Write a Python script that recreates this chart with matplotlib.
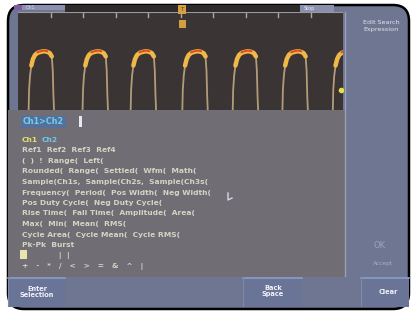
import matplotlib
matplotlib.use('Agg')
import matplotlib.pyplot as plt
from matplotlib.patches import FancyBboxPatch, Rectangle

# pulse start times (divisions)
pulse_starts = [0.32, 1.98, 3.46, 5.05, 6.60, 8.13, 9.68]
# one pulse: time offset (div) / level (div)
pulse_dt = [0.00, 0.02, 0.05, 0.09, 0.14, 0.20, 0.28, 0.38, 0.48, 0.58, 0.66, 0.72, 0.75, 0.77, 0.80]
pulse_v = [-0.3, 0.60, 1.05, 1.36, 1.56, 1.68, 1.75, 1.78, 1.80, 1.78, 1.74, 1.64, 1.20, 0.45, -0.3]

tick_divs = [1, 2, 3, 4, 5, 6, 7, 8, 9]

expr_lines = [
    'Ch1  Ch2',
    'Ref1  Ref2  Ref3  Ref4',
    '(  )  !  Range(  Left(',
    'Rounded(  Range(  Settled(  Wfm(  Math(',
    'Sample(Ch1s,  Sample(Ch2s,  Sample(Ch3s(',
    'Frequency(  Period(  Pos Width(  Neg Width(',
    'Pos Duty Cycle(  Neg Duty Cycle(',
    'Rise Time(  Fall Time(  Amplitude(  Area(',
    'Max(  Min(  Mean(  RMS(',
    'Cycle Area(  Cycle Mean(  Cycle RMS(',
    'Pk-Pk  Burst',
    '              |  |',
    '+   -   *   /   <   >   =   &   ^   |',
]

W, H = 413, 314
fig = plt.figure(figsize=(W / 100, H / 100), dpi=100)
fig.patch.set_facecolor('white')

ax = fig.add_axes([0, 0, 1, 1])
ax.set_xlim(0, W)
ax.set_ylim(H, 0)
ax.axis('off')

blue = '#6e7691'
gray = '#716d74'

# outer rounded frame
ax.add_patch(FancyBboxPatch((8, 5), 401, 304, boxstyle='round,pad=0,rounding_size=16',
                            fc=blue, ec='black', lw=1.8, zorder=1))

# top strip
ax.add_patch(Rectangle((65, 5), 235, 7, fc='#2e2b2d', ec='none', zorder=2))
ax.add_patch(Rectangle((300, 5), 34, 7, fc='#8890ad', ec='none', zorder=2))
ax.add_patch(Rectangle((22, 5), 43, 5, fc='#8a90b0', ec='none', zorder=2))
ax.add_patch(Rectangle((14, 5), 8, 5, fc='#7e5ca0', ec='none', zorder=2))
ax.text(26, 7.5, 'Ch1', fontsize=3.5, color='#dde', va='center', zorder=3)
ax.text(304, 8.5, 'Stop', fontsize=3.5, color='#eef', va='center', zorder=3)

# text area
ax.add_patch(Rectangle((8, 110), 337, 167, fc=gray, ec='none', zorder=2))
ax.plot([345, 345], [12, 276], color='#9aa0b6', lw=1, zorder=3)

# expression box
ax.text(23, 122, 'Ch1>Ch2', fontsize=5.8, color='#6cd0f4', va='center', zorder=4,
        fontweight='bold',
        bbox=dict(boxstyle='square,pad=0.2', fc='#56709a', ec='none'))
ax.add_patch(Rectangle((79, 116), 3, 11, fc='#e8e8f0', ec='none', zorder=5))

y0 = 140
tk = dict(fontsize=5.4, fontweight='bold', va='center', zorder=4)
for i, line in enumerate(expr_lines):
    if i == 0:
        ax.text(22, y0, 'Ch1', color='#e0e070', **tk)
        ax.text(42, y0, 'Ch2', color='#70c8e8', **tk)
        continue
    ax.text(22, y0 + i * 10.5, line, color='#d4d4c4', **tk)
# selected block on cursor line
ax.add_patch(Rectangle((20, 250), 7, 9, fc='#e8e4b0', ec='none', zorder=5))
# mouse pointer
ax.plot([228, 228, 232], [193, 200, 198], color='#d8d8e0', lw=1, zorder=5)

# right panel
ax.text(363, 26, 'Edit Search\nExpression', fontsize=4.6, color='#e4e6ee', va='center',
        ha='left', linespacing=1.3, zorder=4)
ax.text(380, 246, 'OK', fontsize=6, color='#9aa2bc', ha='center', va='center', zorder=4)
ax.text(383, 263, 'Accept', fontsize=4.2, color='#a8b0c8', ha='center', va='center', zorder=4)

# bottom buttons
for x0, x1 in [(8, 65), (243, 302), (361, 409)]:
    ax.add_patch(Rectangle((x0, 277), x1 - x0, 30, fc='#6a7497', ec='none', zorder=2))
    ax.plot([x0, x1], [277.5, 277.5], color='#8a9cc8', lw=1.2, zorder=3)
    ax.plot([x0, x0], [277, 306], color='#7f8aaa', lw=0.8, zorder=3)
bt = dict(fontsize=4.8, fontweight='bold', color='#f0f0f8', ha='center', va='center',
          linespacing=1.1, zorder=4)
ax.text(37, 292, 'Enter\nSelection', **bt)
ax.text(273, 291, 'Back\nSpace', **bt)
ax.text(388, 292, 'Clear', **bt)

# waveform graticule
wax = fig.add_axes([18 / W, (H - 110) / H, 325 / W, 98 / H])
wax.set_facecolor('#3a3435')
wax.set_xlim(0, 10)
wax.set_ylim(0, 3.0)
for s in wax.spines.values():
    s.set_visible(False)
wax.set_xticks([])
wax.set_yticks([])
for d in tick_divs:
    wax.plot([d, d], [2.86, 3.0], color='#a8a8a8', lw=1)
wax.plot([0, 10], [3.0, 3.0], color='#9a9a9a', lw=1.5)

for s0 in pulse_starts:
    t = [s0 + d for d in pulse_dt]
    wax.plot(t, pulse_v, color='#c0a880', lw=1.3, alpha=0.9)
    top_t = [ti for ti, v in zip(t, pulse_v) if v > 1.3]
    top_v = [v for v in pulse_v if v > 1.3]
    wax.plot(top_t, top_v, color='#f0b848', lw=3.2, solid_capstyle='round')
    wax.plot(top_t[3:7], [v + 0.02 for v in top_v[3:7]], color='#e04a20', lw=1.4)
wax.plot([9.95], [0.62], 'o', color='#e8e040', ms=3)

# trigger marker over the graticule
tax = fig.add_axes([0, 0, 1, 1])
tax.set_xlim(0, W)
tax.set_ylim(H, 0)
tax.axis('off')
tax.add_patch(Rectangle((178, 5), 8, 9, fc='#d8a040', ec='none'))
tax.text(182, 9.5, 'T', fontsize=4, color='#5a3a10', ha='center', va='center')
tax.add_patch(Rectangle((178.5, 20), 7, 8, fc='#d0a040', ec='none'))

fig.savefig('out.png', dpi=100, facecolor='white')
